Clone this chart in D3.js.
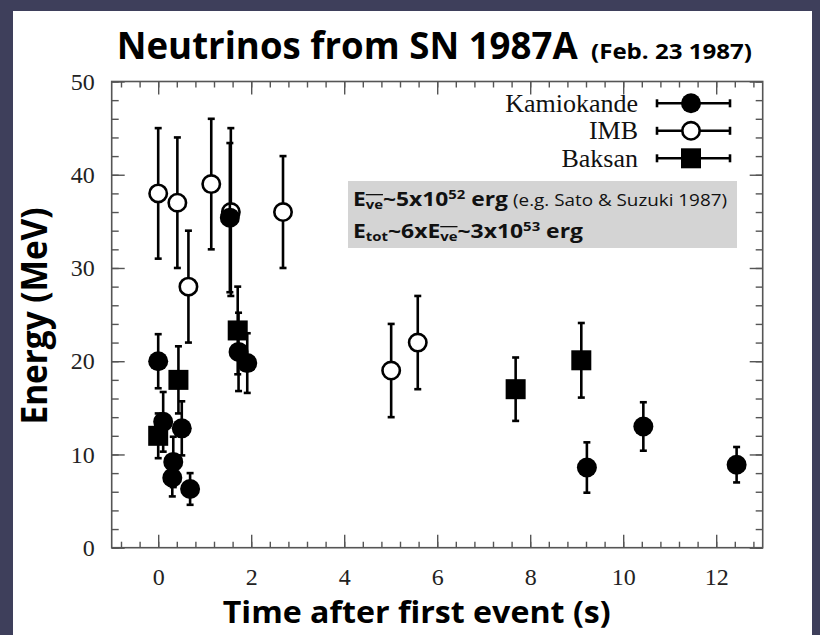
<!DOCTYPE html>
<html>
<head>
<meta charset="utf-8">
<script src="https://cdn.jsdelivr.net/npm/d3@7"></script>
<style>
  html, body { margin: 0; padding: 0; background: #3e3f5b; }
  svg { display: block; }
</style>
</head>
<body>
<div class="canvas"></div>
<script>
// data: time (s), energy (MeV), +/- error
const kamTime   = [0, 0.107, 0.303, 0.324, 0.507, 0.686, 1.541, 1.728, 1.915, 9.219, 10.433, 12.439];
const kamEnergy = [20.0, 13.5, 7.5, 9.2, 12.8, 6.3, 35.4, 21.0, 19.8, 8.6, 13.0, 8.9];
const kamErr    = [2.9, 3.2, 2.0, 2.7, 2.9, 1.7, 8.0, 4.2, 3.2, 2.7, 2.6, 1.9];

const imbTime   = [0, 0.412, 0.650, 1.141, 1.562, 2.684, 5.010, 5.582];
const imbEnergy = [38, 37, 28, 39, 36, 36, 19, 22];
const imbErr    = [7, 7, 6, 7, 9, 6, 5, 5];

const bakTime   = [0, 0.435, 1.710, 7.687, 9.099];
const bakEnergy = [12.0, 18.0, 23.3, 17.0, 20.1];
const bakErr    = [2.4, 3.6, 4.7, 3.4, 4.0];

const xTickLabels = [0, 2, 4, 6, 8, 10, 12];
const yTickLabels = [0, 10, 20, 30, 40, 50];
const legendNames = ['Kamiokande', 'IMB', 'Baksan'];

const W = 820, H = 635;
const serif = '"Liberation Serif", "Times New Roman", serif';
const sans = '"Open Sans", "Noto Sans", sans-serif';

const svg = d3.select('.canvas')
  .append('svg')
    .attr('width', W)
    .attr('height', H);

// white panel inside the dark border
svg.append('rect')
  .attr('x', 13).attr('y', 11)
  .attr('width', 799).attr('height', H - 11)
  .attr('fill', '#fff');

// plot area
const plot = {left: 111.7, right: 762.7, top: 81.5, bottom: 547.7};

const x = d3.scaleLinear().domain([-1, 13]).range([plot.left, plot.right]);
const y = d3.scaleLinear().domain([0, 50]).range([plot.bottom, plot.top]);

// minor ticks
const xMinor = d3.range(-0.8, 13, 0.4).map(d => +d.toFixed(1));
const yMinor = d3.range(0, 51, 2);

const axisColor = '#555';

const styleAxis = g => {
  g.select('.domain').remove();
  g.selectAll('line').attr('stroke', axisColor).attr('stroke-width', 1.4);
  g.selectAll('text')
    .attr('font-family', serif)
    .attr('font-size', 24)
    .attr('fill', '#222');
};

// bottom
svg.append('g').attr('transform', `translate(0, ${plot.bottom})`)
  .call(d3.axisBottom(x).tickValues(xMinor).tickSize(-6).tickFormat(''))
  .call(styleAxis);
svg.append('g').attr('transform', `translate(0, ${plot.bottom})`)
  .call(d3.axisBottom(x).tickValues(xTickLabels).tickSize(-13).tickPadding(20))
  .call(styleAxis);
// top
svg.append('g').attr('transform', `translate(0, ${plot.top})`)
  .call(d3.axisTop(x).tickValues(xMinor).tickSize(-6).tickFormat(''))
  .call(styleAxis);
svg.append('g').attr('transform', `translate(0, ${plot.top})`)
  .call(d3.axisTop(x).tickValues(xTickLabels).tickSize(-13).tickFormat(''))
  .call(styleAxis);
// left
svg.append('g').attr('transform', `translate(${plot.left}, 0)`)
  .call(d3.axisLeft(y).tickValues(yMinor).tickSize(-7).tickFormat(''))
  .call(styleAxis);
svg.append('g').attr('transform', `translate(${plot.left}, 0)`)
  .call(d3.axisLeft(y).tickValues(yTickLabels).tickSize(-13).tickPadding(17))
  .call(styleAxis);
// right
svg.append('g').attr('transform', `translate(${plot.right}, 0)`)
  .call(d3.axisRight(y).tickValues(yMinor).tickSize(-7).tickFormat(''))
  .call(styleAxis);
svg.append('g').attr('transform', `translate(${plot.right}, 0)`)
  .call(d3.axisRight(y).tickValues(yTickLabels).tickSize(-13).tickFormat(''))
  .call(styleAxis);

// frame
svg.append('rect')
  .attr('x', plot.left).attr('y', plot.top)
  .attr('width', plot.right - plot.left).attr('height', plot.bottom - plot.top)
  .attr('fill', 'none')
  .attr('stroke', axisColor)
  .attr('stroke-width', 1.6);

// info box
svg.append('rect')
  .attr('x', 348).attr('y', 181)
  .attr('width', 389).attr('height', 67)
  .attr('fill', '#d4d4d4');

const line1 = svg.append('text')
  .attr('x', 353).attr('y', 206)
  .attr('font-family', sans).attr('font-weight', 'bold')
  .attr('font-size', 20).attr('fill', '#111')
  .attr('textLength', 155).attr('lengthAdjust', 'spacingAndGlyphs');
line1.append('tspan').text('E');
line1.append('tspan').attr('font-size', 13).attr('dy', 3)
  .style('text-decoration', 'overline').text('ve');
line1.append('tspan').attr('dy', -3).text('~5x10');
line1.append('tspan').attr('font-size', 13).attr('dy', -7).text('52');
line1.append('tspan').attr('dy', 7).text(' erg');

svg.append('text')
  .attr('x', 513).attr('y', 206)
  .attr('font-family', sans).attr('font-size', 16).attr('fill', '#111')
  .attr('textLength', 214).attr('lengthAdjust', 'spacingAndGlyphs')
  .text('(e.g. Sato & Suzuki 1987)');

const line2 = svg.append('text')
  .attr('x', 353).attr('y', 238)
  .attr('font-family', sans).attr('font-weight', 'bold')
  .attr('font-size', 20).attr('fill', '#111')
  .attr('textLength', 230).attr('lengthAdjust', 'spacingAndGlyphs');
line2.append('tspan').text('E');
line2.append('tspan').attr('font-size', 13).attr('dy', 3).text('tot');
line2.append('tspan').attr('dy', -3).text('~6xE');
line2.append('tspan').attr('font-size', 13).attr('dy', 3)
  .style('text-decoration', 'overline').text('ve');
line2.append('tspan').attr('dy', -3).text('~3x10');
line2.append('tspan').attr('font-size', 13).attr('dy', -7).text('53');
line2.append('tspan').attr('dy', 7).text(' erg');

// markers
const R = 10, SQ = 20, cap = 3.5;

const drawSeries = (times, energies, errs, shape) => {
  const data = times.map((t, i) => ({t, e: energies[i], err: errs[i]}));
  const g = svg.append('g');

  const bars = g.selectAll('g.bar').data(data).enter().append('g')
    .attr('stroke', '#000').attr('stroke-width', 2.6);
  bars.append('line')
    .attr('x1', d => x(d.t)).attr('x2', d => x(d.t))
    .attr('y1', d => y(d.e - d.err)).attr('y2', d => y(d.e + d.err));
  bars.append('line')
    .attr('x1', d => x(d.t) - cap).attr('x2', d => x(d.t) + cap)
    .attr('y1', d => y(d.e + d.err)).attr('y2', d => y(d.e + d.err));
  bars.append('line')
    .attr('x1', d => x(d.t) - cap).attr('x2', d => x(d.t) + cap)
    .attr('y1', d => y(d.e - d.err)).attr('y2', d => y(d.e - d.err));

  if (shape === 'square') {
    g.selectAll('rect').data(data).enter().append('rect')
      .attr('x', d => x(d.t) - SQ / 2).attr('y', d => y(d.e) - SQ / 2)
      .attr('width', SQ).attr('height', SQ)
      .attr('fill', '#000');
  } else {
    g.selectAll('circle').data(data).enter().append('circle')
      .attr('cx', d => x(d.t)).attr('cy', d => y(d.e))
      .attr('r', shape === 'open' ? R - 1.3 : R)
      .attr('fill', shape === 'open' ? '#fff' : '#000')
      .attr('stroke', '#000')
      .attr('stroke-width', shape === 'open' ? 2.6 : 0);
  }
};

drawSeries(imbTime, imbEnergy, imbErr, 'open');
drawSeries(kamTime, kamEnergy, kamErr, 'filled');
drawSeries(bakTime, bakEnergy, bakErr, 'square');

// legend
const shapes = ['filled', 'open', 'square'];
const legend = svg.append('g');
legendNames.forEach((name, i) => {
  const cy = 103.3 + i * 27.5;
  const row = legend.append('g');
  row.append('text')
    .attr('x', 638).attr('y', cy + 8.5)
    .attr('text-anchor', 'end')
    .attr('font-family', serif).attr('font-size', 26)
    .attr('fill', '#111')
    .text(name);
  row.append('line').attr('x1', 657).attr('x2', 730).attr('y1', cy).attr('y2', cy)
    .attr('stroke', '#000').attr('stroke-width', 2.6);
  [657, 730].forEach(cx => {
    row.append('line').attr('x1', cx).attr('x2', cx).attr('y1', cy - 4).attr('y2', cy + 4)
      .attr('stroke', '#000').attr('stroke-width', 2.6);
  });
  if (shapes[i] === 'square') {
    row.append('rect').attr('x', 691 - SQ / 2).attr('y', cy - SQ / 2)
      .attr('width', SQ).attr('height', SQ).attr('fill', '#000');
  } else {
    row.append('circle').attr('cx', 691).attr('cy', cy)
      .attr('r', shapes[i] === 'open' ? R - 1.3 : R)
      .attr('fill', shapes[i] === 'open' ? '#fff' : '#000')
      .attr('stroke', '#000').attr('stroke-width', shapes[i] === 'open' ? 2.6 : 0);
  }
});

// titles
svg.append('text')
  .attr('x', 116.7).attr('y', 59)
  .attr('font-family', sans).attr('font-weight', 'bold').attr('font-size', 37)
  .attr('textLength', 461).attr('lengthAdjust', 'spacingAndGlyphs')
  .attr('fill', '#000')
  .text('Neutrinos from SN 1987A');
svg.append('text')
  .attr('x', 591).attr('y', 59)
  .attr('font-family', sans).attr('font-weight', 'bold').attr('font-size', 21)
  .attr('textLength', 161).attr('lengthAdjust', 'spacingAndGlyphs')
  .attr('fill', '#000')
  .text('(Feb. 23 1987)');

svg.append('text')
  .attr('x', 222.7).attr('y', 623)
  .attr('font-family', sans).attr('font-weight', 'bold').attr('font-size', 30)
  .attr('textLength', 388).attr('lengthAdjust', 'spacingAndGlyphs')
  .attr('fill', '#000')
  .text('Time after first event (s)');

svg.append('text')
  .attr('transform', 'translate(47, 316) rotate(-90)')
  .attr('text-anchor', 'middle')
  .attr('font-family', sans).attr('font-weight', 'bold').attr('font-size', 35)
  .attr('textLength', 217).attr('lengthAdjust', 'spacingAndGlyphs')
  .attr('fill', '#000')
  .text('Energy (MeV)');
</script>
</body>
</html>
